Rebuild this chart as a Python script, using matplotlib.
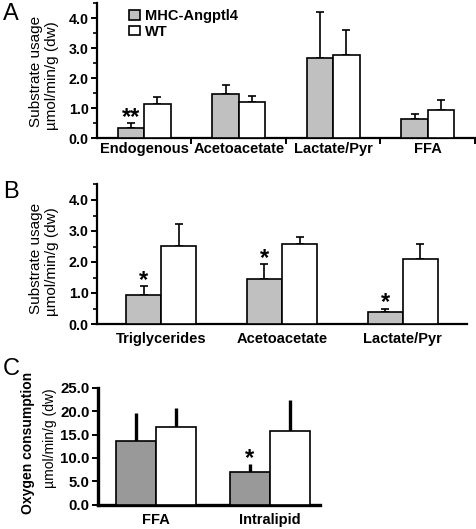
import numpy as np
import matplotlib
matplotlib.use("Agg")
import matplotlib.pyplot as plt

plt.rcParams['font.family'] = ['Liberation Sans', 'DejaVu Sans']

# panel A
a_cats = ['Endogenous', 'Acetoacetate', 'Lactate/Pyr', 'FFA']
a_tg = [0.33, 1.48, 2.69, 0.64]
a_tg_err = [0.17, 0.30, 1.52, 0.15]
a_wt = [1.12, 1.21, 2.79, 0.93]
a_wt_err = [0.25, 0.21, 0.82, 0.35]
a_stars = ['**', '', '', '']

# panel B
b_cats = ['Triglycerides', 'Acetoacetate', 'Lactate/Pyr']
b_tg = [0.94, 1.45, 0.40]
b_tg_err = [0.27, 0.47, 0.10]
b_wt = [2.52, 2.59, 2.09]
b_wt_err = [0.70, 0.22, 0.50]
b_stars = ['*', '*', '*']

# panel C
c_cats = ['FFA', 'Intralipid']
c_tg = [13.6, 7.0]
c_tg_err = [5.9, 1.6]
c_wt = [16.6, 15.8]
c_wt_err = [4.0, 6.5]
c_stars = ['', '*']

legend_labels = ['MHC-Angptl4', 'WT']


def panel(ax, cats, tg, tg_err, wt, wt_err, stars, width, ymax, yticks,
          gray, capsize, elw, xlim, xticks_between, fs_tick=10.3):
    x = np.arange(len(cats))
    b1 = ax.bar(x - width / 2, tg, width, color=gray, edgecolor='black', linewidth=1.2, zorder=3)
    b2 = ax.bar(x + width / 2, wt, width, color='white', edgecolor='black', linewidth=1.2, zorder=3)
    ax.errorbar(x - width / 2, tg, yerr=[np.zeros(len(tg)), tg_err], fmt='none',
                ecolor='black', elinewidth=elw, capsize=capsize, capthick=elw, zorder=2)
    ax.errorbar(x + width / 2, wt, yerr=[np.zeros(len(wt)), wt_err], fmt='none',
                ecolor='black', elinewidth=elw, capsize=capsize, capthick=elw, zorder=2)
    for i, s in enumerate(stars):
        if s:
            ax.annotate(s, (x[i] - width / 2, tg[i] + tg_err[i]), xytext=(0, -4),
                        textcoords='offset points', ha='center', va='bottom',
                        fontsize=17, fontweight='bold')
    ax.set_xlim(*xlim)
    ax.set_ylim(0, ymax)
    ax.set_yticks(yticks)
    ax.set_yticklabels(['%.1f' % v for v in yticks], fontsize=fs_tick, fontweight='bold')
    for sp in ['top', 'right']:
        ax.spines[sp].set_visible(False)
    ax.spines['left'].set_linewidth(1.6)
    ax.spines['bottom'].set_linewidth(1.6)
    ax.tick_params(axis='y', direction='out', length=4, width=1.4, pad=2)
    if xticks_between:
        ax.set_xticks(np.arange(len(cats)) + 0.5)
        ax.set_xticklabels([])
        ax.tick_params(axis='x', direction='out', length=4, width=1.4)
        for i, c in enumerate(cats):
            ax.text(x[i], -0.03, c, transform=ax.get_xaxis_transform(), ha='center', va='top',
                    fontsize=10.5, fontweight='bold')
    else:
        ax.set_xticks(x)
        ax.set_xticklabels(cats, fontsize=10.5, fontweight='bold')
        ax.tick_params(axis='x', length=0, pad=6)
    return b1, b2


fig = plt.figure(figsize=(4.77, 5.29), dpi=100)

axA = fig.add_axes([97 / 477, 1 - 138 / 529, 378 / 477, 134.6 / 529])
b1, b2 = panel(axA, a_cats, a_tg, a_tg_err, a_wt, a_wt_err, a_stars, 0.28, 4.5,
               [0.0, 1.0, 2.0, 3.0, 4.0], '#c0c0c0', 3, 1.2, (-0.5, 3.5), True)
axA.set_yticks(np.arange(0.5, 4.6, 1.0), minor=True)
axA.tick_params(axis='y', which='minor', length=3, width=1.2)
axA.legend([b1, b2], legend_labels, loc='upper left', bbox_to_anchor=(0.07, 1.0),
           frameon=False, handlelength=0.75, handleheight=0.65, handletextpad=0.3,
           labelspacing=0.1, borderaxespad=0, prop={'weight': 'bold', 'size': 10.5})

axB = fig.add_axes([97 / 477, 1 - 324 / 529, 370 / 477, 139.5 / 529])
panel(axB, b_cats, b_tg, b_tg_err, b_wt, b_wt_err, b_stars, 0.29, 4.5,
      [0.0, 1.0, 2.0, 3.0, 4.0], '#c0c0c0', 3, 1.2, (-0.53, 2.53), False)
axB.set_yticks(np.arange(0.5, 4.6, 1.0), minor=True)
axB.tick_params(axis='y', which='minor', length=3, width=1.2)

axC = fig.add_axes([98 / 477, 1 - 504.7 / 529, 222 / 477, 117 / 529])
panel(axC, c_cats, c_tg, c_tg_err, c_wt, c_wt_err, c_stars, 0.35, 25,
      [0.0, 5.0, 10.0, 15.0, 20.0, 25.0], '#999999', 0, 2.4, (-0.51, 1.44), False, fs_tick=10.8)
axC.spines['bottom'].set_linewidth(2.4)
axC.spines['left'].set_linewidth(2.4)

# y labels
fig.text(36 / 477, 1 - 71 / 529, 'Substrate usage', rotation=90, ha='center', va='center', fontsize=11)
fig.text(52 / 477, 1 - 76 / 529, 'µmol/min/g (dw)', rotation=90, ha='center', va='center', fontsize=11)
fig.text(36 / 477, 1 - 258 / 529, 'Substrate usage', rotation=90, ha='center', va='center', fontsize=11)
fig.text(52 / 477, 1 - 262 / 529, 'µmol/min/g (dw)', rotation=90, ha='center', va='center', fontsize=11)
fig.text(28 / 477, 1 - 443 / 529, 'Oxygen consumption', rotation=90, ha='center', va='center',
         fontsize=10, fontweight='bold')
fig.text(50 / 477, 1 - 438 / 529, 'µmol/min/g (dw)', rotation=90, ha='center', va='center', fontsize=10)

# panel letters
fig.text(3 / 477, 1 - 3 / 529, 'A', ha='left', va='top', fontsize=17)
fig.text(3 / 477, 1 - 181 / 529, 'B', ha='left', va='top', fontsize=17)
fig.text(3 / 477, 1 - 358 / 529, 'C', ha='left', va='top', fontsize=17)

fig.savefig('out.png', dpi=100)
